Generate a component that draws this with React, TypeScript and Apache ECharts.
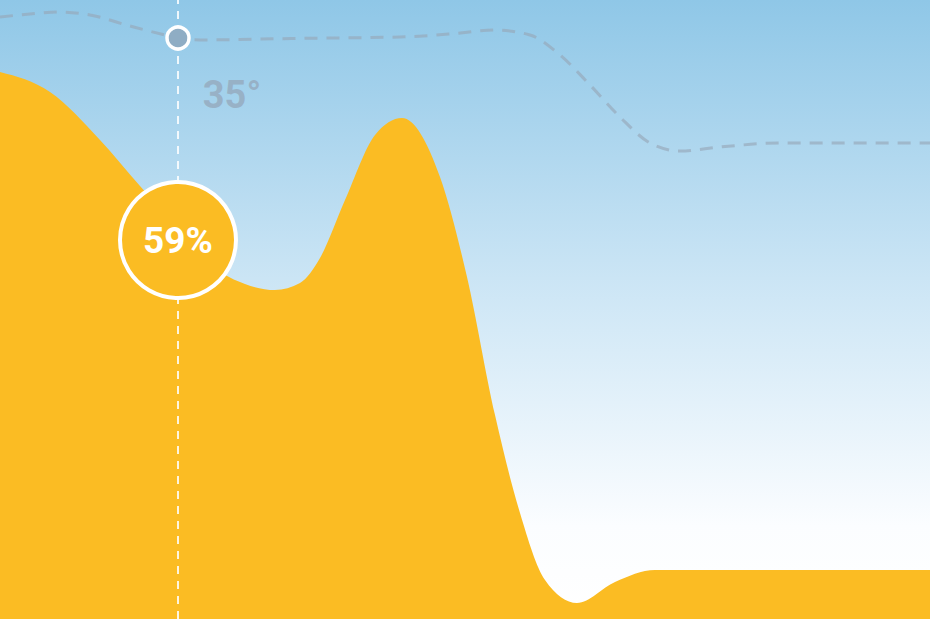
import React, { useEffect, useRef } from 'react';
import * as echarts from 'echarts';

// x positions along the day (0..930 scale) and heights from the bottom (0..619 scale)
const areaX = [0, 50, 100, 140, 178, 215, 245, 275, 300, 320, 345, 375, 402, 440, 467, 495, 520, 545, 577, 615, 655, 930];
const areaLevel = [547, 527, 479, 433, 391, 351, 335, 329, 336, 361, 419, 484, 501, 442, 342, 204, 106, 39, 16, 37, 49, 49];

const tempX = [0, 30, 60, 90, 130, 165, 178, 200, 260, 330, 400, 450, 495, 530, 560, 590, 620, 650, 680, 720, 780, 850, 930];
const tempLevel = [602, 605, 607, 604, 593, 584, 581, 579, 580, 581, 582, 585, 589, 584, 564, 534, 502, 476, 468, 472, 476, 476, 476];

const cursorX = 178;
const cursorTemp = 581;
const humidityLabel = '59%';
const humidityLevel = 379;
const temperatureValue = 35;

// monotone cubic path (same maths as d3.curveMonotoneX) through already-projected points
function monotonePath(pts: number[][]): string {
  const n = pts.length;
  const sign = (v: number) => (v < 0 ? -1 : 1);
  const slopes: number[] = new Array(n).fill(0);
  for (let i = 1; i < n - 1; i++) {
    const [x0, y0] = pts[i - 1];
    const [x1, y1] = pts[i];
    const [x2, y2] = pts[i + 1];
    const h0 = x1 - x0;
    const h1 = x2 - x1;
    const s0 = (y1 - y0) / h0;
    const s1 = (y2 - y1) / h1;
    const p = (s0 * h1 + s1 * h0) / (h0 + h1);
    slopes[i] = (sign(s0) + sign(s1)) * Math.min(Math.abs(s0), Math.abs(s1), 0.5 * Math.abs(p)) || 0;
  }
  const end = (a: number[], b: number[], t: number) => {
    const h = b[0] - a[0];
    return h ? (3 * (b[1] - a[1]) / h - t) / 2 : t;
  };
  slopes[0] = end(pts[0], pts[1], slopes[1]);
  slopes[n - 1] = end(pts[n - 2], pts[n - 1], slopes[n - 2]);
  let d = `M${pts[0][0]},${pts[0][1]}`;
  for (let i = 0; i < n - 1; i++) {
    const [x0, y0] = pts[i];
    const [x1, y1] = pts[i + 1];
    const dx = (x1 - x0) / 3;
    d += ` C${x0 + dx},${y0 + dx * slopes[i]} ${x1 - dx},${y1 - dx * slopes[i + 1]} ${x1},${y1}`;
  }
  return d;
}

const App: React.FC = () => {
  const chartRef = useRef<HTMLDivElement>(null);

  useEffect(() => {
    if (!chartRef.current) return;
    const chart = echarts.init(chartRef.current, null, { renderer: 'svg' });

    const option: echarts.EChartsOption = {
      animation: false,
      backgroundColor: new echarts.graphic.LinearGradient(0, 0, 0, 1, [
        { offset: 0, color: '#8fc7e7' },
        { offset: 0.45, color: '#cbe5f5' },
        { offset: 0.85, color: '#fbfdff' },
        { offset: 1, color: '#ffffff' }
      ]),
      grid: { left: 0, right: 0, top: 0, bottom: 0 },
      xAxis: { type: 'value', min: 0, max: 930, show: false },
      yAxis: { type: 'value', min: 0, max: 619, show: false },
      series: [
        {
          type: 'custom',
          name: 'humidity',
          coordinateSystem: 'cartesian2d',
          data: [[areaX[0], areaLevel[0]]],
          clip: false,
          z: 2,
          renderItem: (_params: any, api: any) => {
            const pts = areaX.map((x, i) => api.coord([x, areaLevel[i]]));
            const base = api.coord([0, 0])[1];
            const d = monotonePath(pts) +
              ` L${pts[pts.length - 1][0]},${base} L${pts[0][0]},${base} Z`;
            return { type: 'path', shape: { pathData: d }, style: { fill: '#fbbc23' } };
          }
        },
        {
          type: 'custom',
          name: 'temperature',
          coordinateSystem: 'cartesian2d',
          data: [[tempX[0], tempLevel[0]]],
          clip: false,
          z: 3,
          renderItem: (_params: any, api: any) => {
            const pts = tempX.map((x, i) => api.coord([x, tempLevel[i]]));
            return {
              type: 'path',
              shape: { pathData: monotonePath(pts) },
              style: {
                fill: 'none',
                stroke: 'rgba(150,168,185,0.65)',
                lineWidth: 3,
                lineDash: [13, 9]
              }
            };
          }
        },
        {
          type: 'line',
          data: [[cursorX, cursorTemp]],
          symbol: 'none',
          lineStyle: { width: 0 },
          z: 4,
          markLine: {
            silent: true,
            symbol: 'none',
            label: { show: false },
            lineStyle: { color: 'rgba(255,255,255,0.85)', width: 2, type: [8, 7] },
            data: [{ xAxis: cursorX }]
          }
        },
        {
          type: 'scatter',
          data: [[cursorX, cursorTemp]],
          symbolSize: 22,
          itemStyle: { color: '#8fadc4', opacity: 1, borderColor: '#ffffff', borderWidth: 3.5 },
          label: {
            show: true,
            position: 'inside',
            offset: [54, 57],
            formatter: `${temperatureValue}°`,
            color: 'rgba(150,172,192,0.85)',
            fontSize: 38,
            fontWeight: 'bold',
            fontFamily: 'Roboto'
          },
          z: 5
        },
        {
          type: 'scatter',
          data: [[cursorX, humidityLevel]],
          symbolSize: 116,
          itemStyle: { color: '#fbbc23', opacity: 1, borderColor: '#ffffff', borderWidth: 4 },
          label: {
            show: true,
            position: 'inside',
            formatter: humidityLabel,
            color: '#ffffff',
            fontSize: 37,
            fontWeight: 'bold',
            fontFamily: 'Roboto'
          },
          z: 6
        }
      ]
    };

    chart.setOption(option);
    return () => chart.dispose();
  }, []);

  return (
    <div
      ref={chartRef}
      style={{ position: 'fixed', left: 0, top: 0, width: '930px', height: '619px' }}
    />
  );
};

export default App;
